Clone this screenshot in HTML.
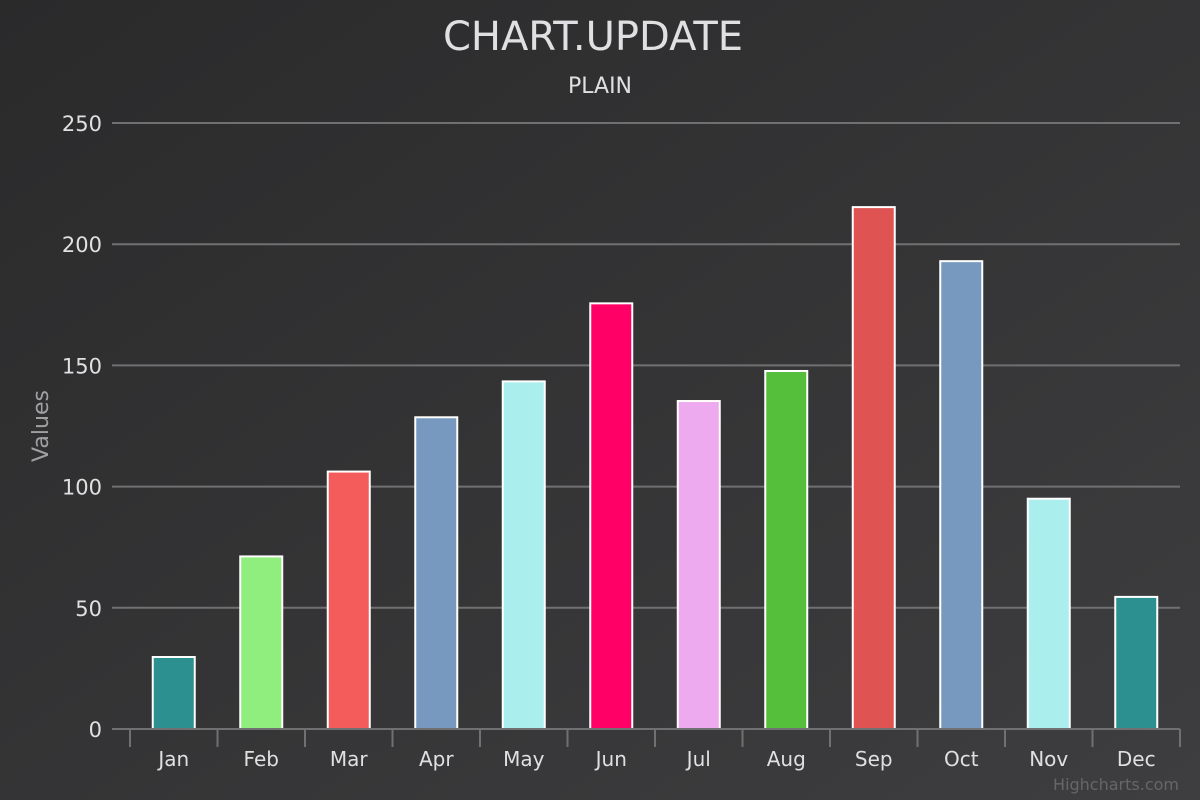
<!DOCTYPE html>
<html><head><meta charset="utf-8"><style>
html,body{margin:0;padding:0;background:#2a2a2b;}
svg{display:block;font-family:"DejaVu Sans","Liberation Sans",sans-serif;}
</style></head><body>
<svg id="chart" width="1200" height="800">
<defs><linearGradient id="bg" x1="0" y1="0" x2="1" y2="1"><stop offset="0" stop-color="#2a2a2b"/><stop offset="1" stop-color="#3e3e40"/></linearGradient></defs>
<rect width="1200" height="800" fill="url(#bg)"/>
<text x="593" y="50" text-anchor="middle" font-size="40" fill="#e0e0e3">CHART.UPDATE</text>
<text x="600" y="93" text-anchor="middle" font-size="22" fill="#e0e0e3">PLAIN</text>
<text transform="translate(48,426) rotate(-90)" text-anchor="middle" font-size="22" fill="#a0a0a3">Values</text>
<text x="1179" y="790" text-anchor="end" font-size="16" fill="#666">Highcharts.com</text>
<g id="grid"></g><g id="bars"></g><g id="xaxis"></g>
</svg>
<script>
const categories=['Jan','Feb','Mar','Apr','May','Jun','Jul','Aug','Sep','Oct','Nov','Dec'];
const values=[29.7,71.2,106.2,128.6,143.4,175.6,135.3,147.7,215.3,193,95,54.5];
const colors=['#2b908f','#90ee7e','#f45b5b','#7798BF','#aaeeee','#ff0066','#eeaaee','#55BF3B','#DF5353','#7798BF','#aaeeee','#2b908f'];
const yTicks=[0,50,100,150,200,250];
const NS='http://www.w3.org/2000/svg';
const L=130,R=1180,T=123,B=729,YMAX=250;
const y=v=>B-(v/YMAX)*(B-T);
const cw=(R-L)/categories.length;
const x=i=>L+cw*i;
function mk(t,a,p){const e=document.createElementNS(NS,t);for(const k in a)e.setAttribute(k,a[k]);p.appendChild(e);return e;}
const grid=document.getElementById('grid');
yTicks.forEach(v=>{
 if(v>0){const l=mk('line',{x1:112,x2:R,y1:y(v),y2:y(v),stroke:'#707073','stroke-width':2},grid);
 
 }
 const t=mk('text',{x:102,y:y(v)+8,'text-anchor':'end','font-size':21,fill:'#e0e0e3'},grid);t.textContent=v;
 
 
});
const bars=document.getElementById('bars');
values.forEach((v,i)=>{
 const w=42,cx=x(i)+cw/2;
 const r=mk('rect',{x:cx-w/2,y:y(v),width:w,height:B-y(v),fill:colors[i],stroke:'#ffffff','stroke-width':2},bars);
 
 
});
const xa=document.getElementById('xaxis');
const al=mk('line',{x1:112,x2:R,y1:B,y2:B,stroke:'#707073','stroke-width':2},xa);


for(let i=0;i<=categories.length;i++){
 const tk=mk('line',{x1:x(i),x2:x(i),y1:B,y2:B+18,stroke:'#707073','stroke-width':2},xa);
 
 
}
categories.forEach((c,i)=>{
 const t=mk('text',{x:x(i)+cw/2,y:766,'text-anchor':'middle','font-size':20,fill:'#e0e0e3'},xa);t.textContent=c;
 
 
});
</script>
</body></html>
